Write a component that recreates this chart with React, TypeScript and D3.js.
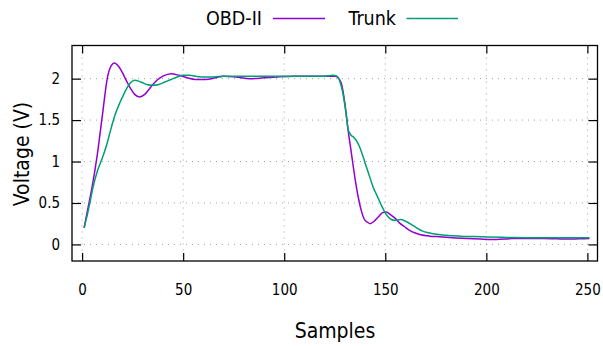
import { useRef, useEffect } from "react";
import { select, scaleLinear, line, curveMonotoneX, axisBottom, axisLeft, axisTop, axisRight } from "d3";

const xTicks = [0, 50, 100, 150, 200, 250];
const yTicks = [0, 0.5, 1, 1.5, 2];

const obdSamples = [
    1, 3, 5, 7.5, 10, 12.5, 14.5, 16, 18, 20, 22, 24, 26, 28.5, 31, 34, 37, 40, 44, 48, 52, 56, 61, 66, 70, 76, 83, 90,
    96, 105, 115, 122, 125.5, 127, 128.5, 130, 131.5, 133.3, 135, 136.7, 138, 139.5, 141, 142.5, 144.5, 146.5, 148.5,
    150.5, 152.5, 154.7, 157, 159.7, 162, 164.5, 167, 172, 177, 183, 190, 197, 205, 213, 220, 228, 235, 240, 246, 251,
];
const obdVolts = [
    0.2, 0.45, 0.7, 1.08, 1.55, 2.01, 2.16, 2.19, 2.15, 2.07, 1.97, 1.88, 1.81, 1.78, 1.81, 1.9, 1.98, 2.03, 2.06, 2.04,
    2.01, 1.99, 1.99, 2.01, 2.03, 2.02, 2.0, 2.01, 2.02, 2.03, 2.03, 2.03, 2.03, 2.0, 1.92, 1.7, 1.4, 1.09, 0.8, 0.56,
    0.42, 0.31, 0.27, 0.25, 0.28, 0.33, 0.38, 0.39, 0.36, 0.32, 0.26, 0.21, 0.17, 0.14, 0.12, 0.1, 0.093, 0.08, 0.072,
    0.065, 0.06, 0.07, 0.07, 0.07, 0.067, 0.065, 0.068, 0.07,
];

const trunkSamples = [
    1, 2.5, 4, 5.5, 7.5, 9, 10.7, 12.5, 14, 16.4, 18.5, 20.6, 22.5, 24, 26, 28, 30, 32, 35, 38, 41, 44, 47, 50, 53, 56,
    60, 65, 70, 80, 90, 100, 110, 120, 124, 126, 127.5, 129, 130.5, 131.7, 133, 134.5, 136, 137.4, 139, 140.7, 142.5,
    144, 145.5, 147, 148.5, 150, 151.5, 153, 155, 157.5, 160, 163, 165.5, 168.5, 171.5, 174.5, 180, 187, 194, 200, 210,
    223, 235, 245, 251,
];
const trunkVolts = [
    0.2, 0.35, 0.52, 0.7, 0.88, 0.98, 1.09, 1.23, 1.37, 1.57, 1.7, 1.81, 1.9, 1.95, 1.98, 1.97, 1.95, 1.93, 1.92, 1.93,
    1.96, 1.99, 2.02, 2.04, 2.04, 2.03, 2.02, 2.02, 2.03, 2.03, 2.03, 2.03, 2.03, 2.03, 2.04, 2.03, 1.97, 1.83, 1.6,
    1.38, 1.32, 1.29, 1.24, 1.17, 1.06, 0.93, 0.8, 0.69, 0.61, 0.53, 0.45, 0.38, 0.33, 0.3, 0.29, 0.3, 0.28, 0.24, 0.2,
    0.16, 0.14, 0.125, 0.11, 0.1, 0.095, 0.09, 0.085, 0.08, 0.08, 0.08, 0.08,
];

const series = [
    { name: "OBD-II", xs: obdSamples, ys: obdVolts, color: "#9400d3" },
    { name: "Trunk", xs: trunkSamples, ys: trunkVolts, color: "#009e73" },
];

const font = "'DejaVu Sans Condensed', 'DejaVu Sans', sans-serif";

export default function App() {
    const svgRef = useRef(null);

    useEffect(() => {
        const svg = select(svgRef.current);
        svg.selectAll("*").remove();

        const left = 72, right = 597.5, top = 45.5, bottom = 261;
        const xScale = scaleLinear().domain([-5, 255]).range([left, right]);
        const yScale = scaleLinear().domain([-0.2, 2.4]).range([bottom, top]);

        // grid
        const grid = svg.append("g").attr("stroke", "#a0a0a0").attr("stroke-width", 1).attr("stroke-dasharray", "1,5");
        xTicks.forEach((t) => {
            grid.append("line").attr("x1", xScale(t)).attr("x2", xScale(t)).attr("y1", top).attr("y2", bottom);
        });
        yTicks.forEach((t) => {
            grid.append("line").attr("x1", left).attr("x2", right).attr("y1", yScale(t)).attr("y2", yScale(t));
        });

        // axes with inward ticks
        const styleAxis = (g: any) => {
            g.select(".domain").remove();
            g.selectAll(".tick line").attr("stroke", "#000").attr("stroke-width", 1.2);
            g.selectAll("text").attr("font-family", font).attr("font-size", 15).attr("fill", "#000");
        };
        svg.append("g")
            .attr("transform", `translate(0,${bottom})`)
            .call(axisBottom(xScale).tickValues(xTicks).tickSizeInner(-8).tickPadding(23).tickFormat((d: any) => String(d)))
            .call(styleAxis);
        svg.append("g")
            .attr("transform", `translate(0,${top})`)
            .call(axisTop(xScale).tickValues(xTicks).tickSizeInner(-8).tickFormat(() => ""))
            .call(styleAxis);
        svg.append("g")
            .attr("transform", `translate(${left},0)`)
            .call(axisLeft(yScale).tickValues(yTicks).tickSizeInner(-9).tickPadding(12).tickFormat((d: any) => String(d)))
            .call(styleAxis);
        svg.append("g")
            .attr("transform", `translate(${right},0)`)
            .call(axisRight(yScale).tickValues(yTicks).tickSizeInner(-9).tickFormat(() => ""))
            .call(styleAxis);

        // lines
        series.forEach((s) => {
            const pts = s.xs.map((x, i) => [x, s.ys[i]] as [number, number]);
            const gen = line<[number, number]>()
                .x((d) => xScale(d[0]))
                .y((d) => yScale(d[1]))
                .curve(curveMonotoneX);
            svg.append("path")
                .attr("d", gen(pts))
                .attr("fill", "none")
                .attr("stroke", s.color)
                .attr("stroke-width", 1.5)
                .attr("stroke-linejoin", "round");
        });

        // frame
        svg.append("rect")
            .attr("x", left)
            .attr("y", top)
            .attr("width", right - left)
            .attr("height", bottom - top)
            .attr("fill", "none")
            .attr("stroke", "#000")
            .attr("stroke-width", 1.3);

        // axis titles
        svg.append("text")
            .attr("x", 335)
            .attr("y", 338)
            .attr("text-anchor", "middle")
            .attr("font-family", font)
            .attr("font-size", 21)
            .text("Samples");
        svg.append("text")
            .attr("transform", "translate(29,154) rotate(-90)")
            .attr("text-anchor", "middle")
            .attr("font-family", font)
            .attr("font-size", 21)
            .text("Voltage (V)");

        // legend
        const legend = [
            { textEnd: 262, lineStart: 273, lineEnd: 325 },
            { textEnd: 396, lineStart: 406.5, lineEnd: 458 },
        ];
        series.forEach((s, i) => {
            const l = legend[i];
            svg.append("text")
                .attr("x", l.textEnd)
                .attr("y", 25)
                .attr("text-anchor", "end")
                .attr("font-family", font)
                .attr("font-size", 19.5)
                .text(s.name);
            svg.append("line")
                .attr("x1", l.lineStart)
                .attr("x2", l.lineEnd)
                .attr("y1", 18.5)
                .attr("y2", 18.5)
                .attr("stroke", s.color)
                .attr("stroke-width", 1.5);
        });
    }, []);

    return (
        <div>
            <style>{`body{margin:0}`}</style>
            <svg ref={svgRef} width={603} height={346} style={{ display: "block", background: "#fff" }} />
        </div>
    );
}
